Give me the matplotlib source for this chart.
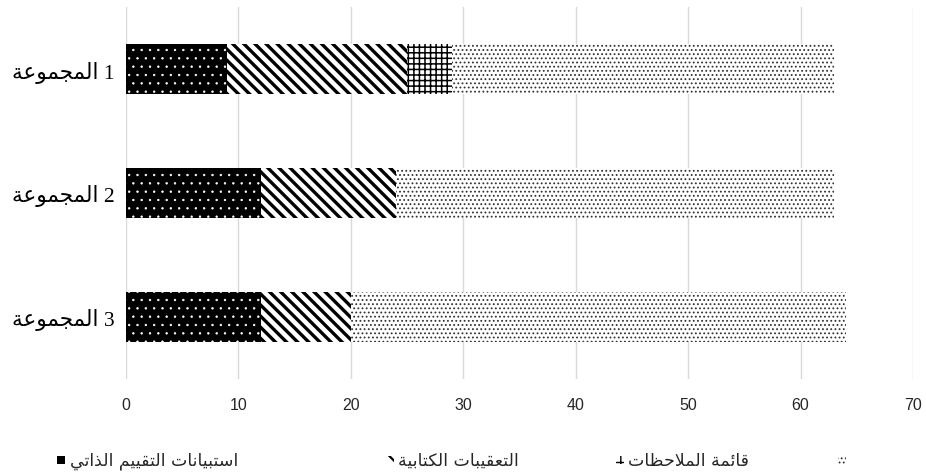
import matplotlib
matplotlib.use("Agg")
import matplotlib.pyplot as plt
from matplotlib.patches import Rectangle

# ---- data -------------------------------------------------------------
groups = ["المجموعة", "المجموعة", "المجموعة"]
group_numbers = ["1", "2", "3"]
series_names = ["استبيانات التقييم الذاتي", "التعقيبات الكتابية", "قائمة الملاحظات", ""]
self_assessment = [9, 12, 12]
written_feedback = [16, 12, 8]
observation_list = [4, 0, 0]
remainder = [34, 39, 44]
x_ticks = [0, 10, 20, 30, 40, 50, 60, 70]

# ---- minimal Arabic shaping (presentation forms + visual order) -------
_FORMS = {
    "ا": ("\uFE8D", "\uFE8E"), "ب": ("\uFE8F", "\uFE90", "\uFE91", "\uFE92"),
    "ة": ("\uFE93", "\uFE94"), "ت": ("\uFE95", "\uFE96", "\uFE97", "\uFE98"),
    "ج": ("\uFE9D", "\uFE9E", "\uFE9F", "\uFEA0"),
    "ح": ("\uFEA1", "\uFEA2", "\uFEA3", "\uFEA4"),
    "ذ": ("\uFEAB", "\uFEAC"), "س": ("\uFEB1", "\uFEB2", "\uFEB3", "\uFEB4"),
    "ظ": ("\uFEC5", "\uFEC6", "\uFEC7", "\uFEC8"),
    "ع": ("\uFEC9", "\uFECA", "\uFECB", "\uFECC"),
    "ق": ("\uFED5", "\uFED6", "\uFED7", "\uFED8"),
    "ك": ("\uFED9", "\uFEDA", "\uFEDB", "\uFEDC"),
    "ل": ("\uFEDD", "\uFEDE", "\uFEDF", "\uFEE0"),
    "م": ("\uFEE1", "\uFEE2", "\uFEE3", "\uFEE4"),
    "ن": ("\uFEE5", "\uFEE6", "\uFEE7", "\uFEE8"),
    "و": ("\uFEED", "\uFEEE"), "ي": ("\uFEF1", "\uFEF2", "\uFEF3", "\uFEF4"),
    "ئ": ("\uFE89", "\uFE8A", "\uFE8B", "\uFE8C"),
}


def _dual(ch):
    return ch in _FORMS and len(_FORMS[ch]) == 4


def shape(text):
    out = []
    i = 0
    n = len(text)
    while i < n:
        ch = text[i]
        prev = text[i - 1] if i > 0 else ""
        joins_prev = _dual(prev)
        if ch == "ل" and i + 1 < n and text[i + 1] == "ا":
            out.append("\uFEFC" if joins_prev else "\uFEFB")
            i += 2
            continue
        if ch not in _FORMS:
            out.append(ch)
            i += 1
            continue
        nxt = text[i + 1] if i + 1 < n else ""
        joins_next = _dual(ch) and nxt in _FORMS
        f = _FORMS[ch]
        if joins_prev and joins_next:
            out.append(f[3])
        elif joins_prev:
            out.append(f[1])
        elif joins_next:
            out.append(f[2])
        else:
            out.append(f[0])
        i += 1
    return "".join(out)[::-1]


# ---- figure -------------------------------------------------------------
W, H, DPI = 926, 477, 100
fig = plt.figure(figsize=(W / DPI, H / DPI), dpi=DPI)
ax = fig.add_axes([126 / W, 1 - 380 / H, (913 - 126) / W, (380 - 8) / H])

pos = list(range(len(groups)))
bar_h = 0.4

styles = [
    dict(color="black", edgecolor="white", hatch="..", lw=0.0, hlw=0.5),
    dict(color="white", edgecolor="black", hatch="\\\\\\", lw=0.0, hlw=2.4),
    dict(color="white", edgecolor="black", hatch="+++", lw=0.0, hlw=1.1),
    dict(color="white", edgecolor="#333333", hatch="....", lw=0.0, hlw=0.8),
]
series = [self_assessment, written_feedback, observation_list, remainder]

left = [0] * len(groups)
for vals, st in zip(series, styles):
    plt.rcParams["hatch.linewidth"] = st["hlw"]
    bars = ax.barh(pos, vals, left=left, height=bar_h, color=st["color"],
                   edgecolor=st["edgecolor"], hatch=st["hatch"],
                   linewidth=st["lw"], zorder=3)
    for b in bars:
        if hasattr(b, "set_hatch_linewidth"):
            b.set_hatch_linewidth(st["hlw"])
    left = [a + b for a, b in zip(left, vals)]

ax.set_xlim(0, 70)
ax.set_ylim(len(groups) - 0.5, -0.5)
ax.set_xticks(x_ticks)
ax.set_xticklabels([str(t) for t in x_ticks], family="Liberation Sans",
                   fontsize=11.5, color="#262626")
ax.set_yticks(pos)
ax.set_yticklabels([shape(g) + " " + n for g, n in zip(groups, group_numbers)],
                   family=["Liberation Serif", "DejaVu Sans"], fontsize=15.5,
                   color="black")
ax.tick_params(axis="x", length=0, pad=13)
ax.tick_params(axis="y", length=0, pad=8)
ax.grid(axis="x", color="#d9d9d9", lw=1.0, zorder=0)
ax.grid(axis="y", visible=False)
for s in ax.spines.values():
    s.set_visible(False)

# ---- legend drawn row-wise along the bottom -----------------------------
leg_y = 461
marker_x = [57, 386, 616, 838]
text_x = [70, 398, 628, 850]
legend_hatch = [None, "\\\\", "++", "...."]
legend_hlw = [0.5, 1.6, 1.0, 0.8]
for k, (name, st) in enumerate(zip(series_names, styles)):
    plt.rcParams["hatch.linewidth"] = legend_hlw[k]
    r = Rectangle((marker_x[k] / W, 1 - (leg_y + 4) / H), 8 / W, 8 / H,
                  transform=fig.transFigure, facecolor=st["color"],
                  edgecolor=st["edgecolor"], hatch=legend_hatch[k], lw=0.0)
    if hasattr(r, "set_hatch_linewidth"):
        r.set_hatch_linewidth(legend_hlw[k])
    fig.add_artist(r)
    if name:
        fig.text(text_x[k] / W, 1 - leg_y / H, shape(name), ha="left",
                 va="center", family="DejaVu Sans", fontsize=12.5,
                 color="#262626")

fig.savefig("out.png", dpi=DPI)
